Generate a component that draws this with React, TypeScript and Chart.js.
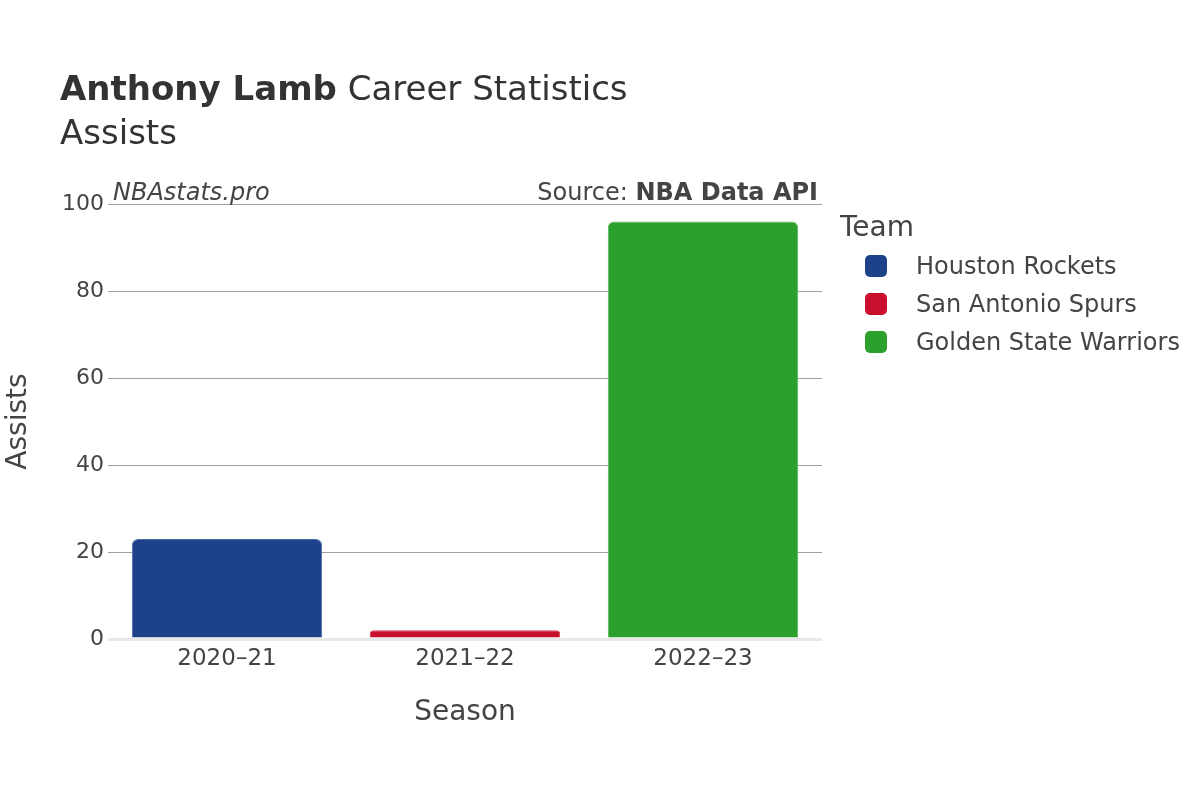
import React, { useEffect, useRef } from "react";
import { Chart, registerables } from "chart.js";

Chart.register(...registerables);

const seasons = ["2020–21", "2021–22", "2022–23"];
const teams = ["Houston Rockets", "San Antonio Spurs", "Golden State Warriors"];
const teamColors = ["#1d4289", "#c8102e", "#2ca02c"];
const teamEdges = ["#4a6aa8", "#d84058", "#55b555"];
const houstonAssists = [23, null, null];
const spursAssists = [null, 2, null];
const warriorsAssists = [null, null, 96];
const yTicks = [0, 20, 40, 60, 80, 100];

const FONT = "'DejaVu Sans', sans-serif";
const TEXT = "#444444";

export default function App() {
  const ref = useRef<HTMLCanvasElement | null>(null);

  useEffect(() => {
    document.body.style.margin = "0";
    const ctx = ref.current!;
    const seriesValues = [houstonAssists, spursAssists, warriorsAssists];
    const chart = new Chart(ctx, {
      type: "bar",
      data: {
        labels: seasons,
        datasets: teams.map((t, i) => ({
          label: t,
          data: seriesValues[i],
          backgroundColor: teamColors[i],
          borderColor: teamEdges[i],
          borderWidth: 1,
          borderRadius: 6,
          borderSkipped: "bottom" as const,
          barPercentage: 0.8,
          categoryPercentage: 1,
        })),
      },
      options: {
        animation: false,
        responsive: false,
        skipNull: true,
        layout: { padding: { left: 0, right: 378, top: 204, bottom: 70 } },
        plugins: {
          legend: { display: false },
          tooltip: { enabled: false },
          title: { display: false },
        },
        scales: {
          x: {
            grid: { display: false },
            border: { display: false },
            ticks: { font: { family: FONT, size: 23 }, color: TEXT, padding: -2 },
            title: {
              display: true,
              text: "Season",
              font: { family: FONT, size: 28 },
              color: TEXT,
              padding: { top: 24, bottom: 0 },
            },
            afterFit: (s: any) => {
              s.height = 91;
            },
          },
          y: {
            min: 0,
            max: 100,
            afterBuildTicks: (s: any) => {
              s.ticks = yTicks.map((v) => ({ value: v }));
            },
            grid: {
              color: (c: any) => (c.tick && c.tick.value === 0 ? "#e8e8e8" : "#a0a0a0"),
              lineWidth: (c: any) => (c.tick && c.tick.value === 0 ? 3 : 1),
              drawTicks: false,
            },
            border: { display: false },
            ticks: { font: { family: FONT, size: 22 }, color: TEXT, padding: 4 },
            title: {
              display: true,
              text: "Assists",
              font: { family: FONT, size: 28 },
              color: TEXT,
              padding: { top: 2, bottom: 0 },
            },
            afterFit: (s: any) => {
              s.width = 108;
            },
          },
        },
      },
    });
    return () => chart.destroy();
  }, []);

  const legendRow = (i: number) => (
    <div
      key={teams[i]}
      style={{ position: "absolute", left: 865, top: 255 + i * 38, height: 22, display: "flex", alignItems: "center" }}
    >
      <div style={{ width: 22, height: 22, borderRadius: 5, background: teamColors[i] }} />
      <span style={{ marginLeft: 29, fontSize: 24, color: TEXT, whiteSpace: "nowrap", lineHeight: "22px" }}>{teams[i]}</span>
    </div>
  );

  return (
    <div style={{ position: "relative", width: 1200, height: 800, fontFamily: FONT, background: "#fff" }}>
      <canvas ref={ref} width={1200} height={800} style={{ position: "absolute", left: 0, top: 0 }} />
      <div style={{ position: "absolute", left: 60, top: 67, fontSize: 34, color: "#333", whiteSpace: "nowrap", lineHeight: "42px" }}>
        <b>Anthony Lamb</b> Career Statistics
      </div>
      <div style={{ position: "absolute", left: 60, top: 111, fontSize: 34, color: "#333", lineHeight: "42px" }}>Assists</div>
      <div style={{ position: "absolute", left: 113, top: 177, fontSize: 24, color: TEXT, fontStyle: "italic", lineHeight: "30px" }}>
        NBAstats.pro
      </div>
      <div style={{ position: "absolute", right: 1200 - 818, top: 177, fontSize: 24, color: TEXT, lineHeight: "30px", whiteSpace: "nowrap" }}>
        Source: <b>NBA Data API</b>
      </div>
      <div style={{ position: "absolute", left: 840, top: 209, fontSize: 28, color: TEXT, lineHeight: "36px" }}>Team</div>
      {teams.map((_, i) => legendRow(i))}
    </div>
  );
}
